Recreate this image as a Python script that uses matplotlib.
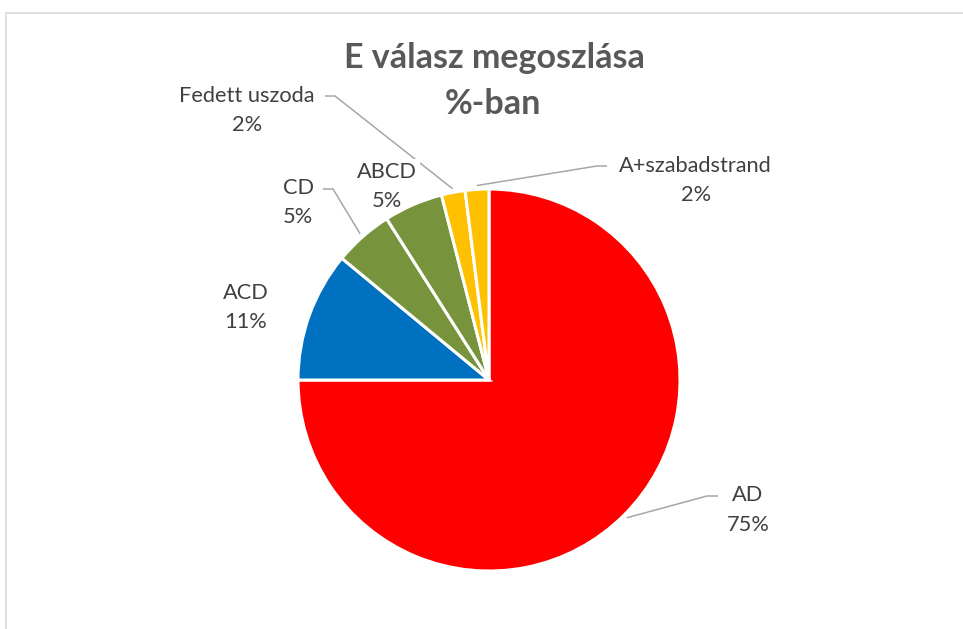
import numpy as np
import matplotlib.pyplot as plt
from matplotlib.patches import Rectangle

# Data
labels = ['AD', 'ACD', 'CD', 'ABCD', 'Fedett uszoda', 'A+szabadstrand']
shares = [75, 11, 5, 5, 2, 2]
colors = ['#FF0000', '#0070C0', '#77933C', '#77933C', '#FFC000', '#FFC000']
explode = [0.035, 0, 0, 0, 0, 0]

title_lines = ['E válasz megoszlása', '%-ban']

W, H = 963, 629
FONT = 'Lato'
TXT = '#404040'
LEAD = '#A6A6A6'

# label placement in pixel coords (name centre, percent centre)
name_pos = [(748, 495), (246, 293), (298, 188), (387, 172), (247, 96), (695, 166)]
pct_pos = [(748, 525), (246, 322), (298, 217), (387, 201), (247, 125), (696, 195)]
# leader lines: label side start, elbow (None = no leader)
leaders = [((718, 496), (707, 496)), None, ((323, 189), (333, 189)), None,
           ((325, 96), (335, 96)), ((607, 166), (597, 166))]


def py(y):
    return H - y


fig = plt.figure(figsize=(W / 100, H / 100), dpi=100)
ax = fig.add_axes([0, 0, 1, 1])

wedges, _ = ax.pie(shares, colors=colors, startangle=90, counterclock=False,
                   center=(489, py(380)), radius=191, explode=explode,
                   wedgeprops=dict(edgecolor='white', linewidth=2.2))
ax.set_xlim(0, W)
ax.set_ylim(0, H)
ax.axis('off')

# chart area border (only top/left visible in the crop)
ax.add_patch(Rectangle((5.5, -10), W + 20, py(13) + 10, fill=False,
                       edgecolor='#D9D9D9', linewidth=1.2, zorder=0))

for i, w in enumerate(wedges):
    nx, ny = name_pos[i]
    px_, pyy = pct_pos[i]
    bb = dict(facecolor='white', edgecolor='none', pad=2) if labels[i] == 'ABCD' else None
    ax.text(nx, py(ny), labels[i], ha='center', va='center', fontsize=15.7,
            color=TXT, family=FONT, zorder=5, bbox=bb)
    ax.text(px_, py(pyy), f'{shares[i]}%', ha='center', va='center', fontsize=15.7,
            color=TXT, family=FONT, zorder=5)
    if leaders[i] is not None:
        (sx, sy), (ex, ey) = leaders[i]
        th = np.deg2rad((w.theta1 + w.theta2) / 2)
        cx, cy = w.center
        tx = cx + w.r * 1.02 * np.cos(th)
        ty = cy + w.r * 1.02 * np.sin(th)
        ax.plot([sx, ex, tx], [py(sy), py(ey), ty], color=LEAD, lw=1.1,
                zorder=4, solid_capstyle='butt')

ax.text(494, py(58), title_lines[0], ha='center', va='center', fontsize=24.5,
        fontweight='bold', color='#595959', family=FONT)
ax.text(493, py(104), title_lines[1], ha='center', va='center', fontsize=24.5,
        fontweight='bold', color='#595959', family=FONT)

fig.savefig('out.png', dpi=100, facecolor='white')
